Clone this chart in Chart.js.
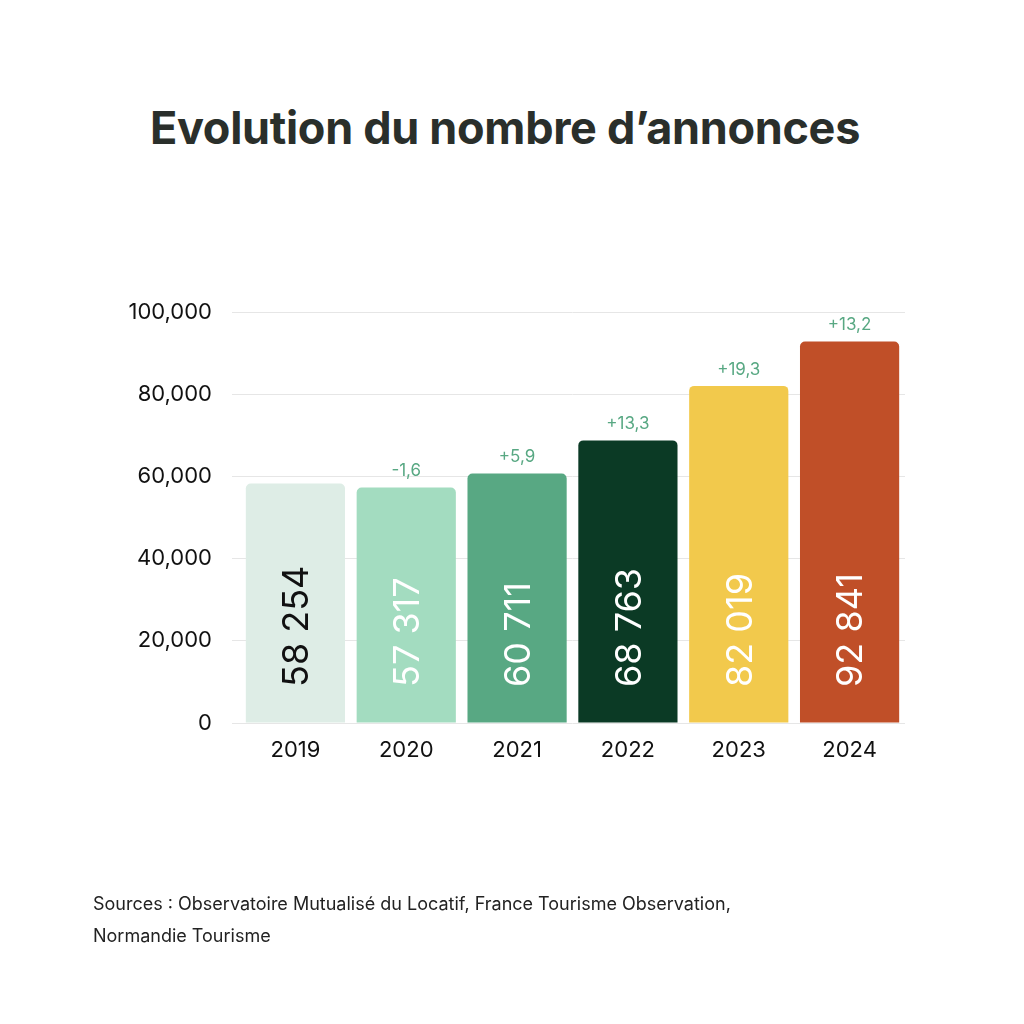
<!DOCTYPE html>
<html><head><meta charset="utf-8">
<script src="https://cdn.jsdelivr.net/npm/chart.js@4"></script>
<style>
body{margin:0;background:#fff;font-family:Inter,"Noto Sans",sans-serif;}
#wrap{position:relative;width:1024px;height:1024px;}
#title{position:absolute;top:100px;left:0;width:1010px;text-align:center;font-size:45px;font-weight:700;color:#2a2f2b;letter-spacing:-0.3px}
#src{position:absolute;left:93px;top:888px;font-size:18px;line-height:32px;color:#222}
canvas{position:absolute;top:0;left:0}
</style></head><body>
<div id="wrap">
<div id="title">Evolution du nombre d’annonces</div>
<canvas id="c" width="1024" height="1024"></canvas>
<div id="src">Sources : Observatoire Mutualisé du Locatif, France Tourisme Observation,<br>Normandie Tourisme</div>
</div>
<script>
const years=["2019","2020","2021","2022","2023","2024"];
const values=[58254,57317,60711,68763,82019,92841];
const valueLabels=["58 254","57 317","60 711","68 763","82 019","92 841"];
const changes=["","-1,6","+5,9","+13,3","+19,3","+13,2"];
const colors=["#deede6","#a3dcc0","#58a883","#0b3a25","#f2c94c","#c04f28"];
const textColors=["#111","#fff","#fff","#fff","#fff","#fff"];
const yTicks=[0,20000,40000,60000,80000,100000];
const labelPlugin={id:"lbl",afterDatasetsDraw(chart){
 const ctx=chart.ctx;const meta=chart.getDatasetMeta(0);
 meta.data.forEach((b,i)=>{
  ctx.save();
  ctx.fillStyle="#58a883";ctx.font="17px Inter";ctx.textAlign="center";ctx.textBaseline="bottom";
  if(changes[i])ctx.fillText(changes[i],b.x,b.y-8);
  ctx.translate(b.x,chart.chartArea.bottom-36);ctx.rotate(-Math.PI/2);
  ctx.fillStyle=textColors[i];ctx.font="36px Inter";ctx.textAlign="left";ctx.textBaseline="middle";
  ctx.fillText(valueLabels[i],0,2);
  ctx.restore();
 });
}};
new Chart(document.getElementById("c"),{type:"bar",
data:{labels:years,datasets:[{data:values,backgroundColor:colors,borderRadius:{topLeft:5,topRight:5},borderSkipped:"bottom",barPercentage:0.895,categoryPercentage:1}]},
options:{responsive:false,animation:false,devicePixelRatio:1,
layout:{padding:{left:0,right:119,top:312,bottom:251}},
plugins:{legend:{display:false},tooltip:{enabled:false}},
scales:{
 x:{grid:{display:false},border:{display:false},ticks:{color:"#111",font:{size:22,family:"Inter"},padding:6},afterFit(s){s.height=50;}},
 y:{min:0,max:100000,afterBuildTicks(s){s.ticks=yTicks.map(v=>({value:v}));},grid:{color:"#e6e6e6"},border:{display:false},
   ticks:{color:"#111",font:{size:22,family:"Inter"},padding:20},afterFit(s){s.width=240;}}
}},plugins:[labelPlugin]});
</script></body></html>
